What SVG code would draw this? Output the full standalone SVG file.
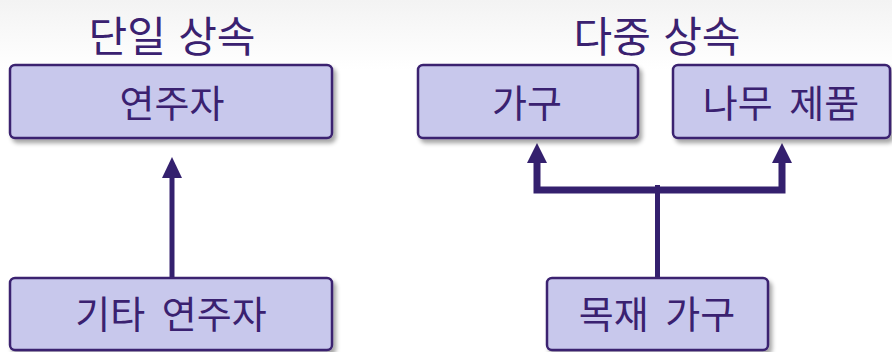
<svg xmlns="http://www.w3.org/2000/svg" width="892" height="352" viewBox="0 0 892 352">
<defs>
<linearGradient id="bg" x1="0" y1="0" x2="0" y2="1">
<stop offset="0" stop-color="#f3f3f3"/>
<stop offset="1" stop-color="#ffffff"/>
</linearGradient>
<filter id="sh" x="-10%" y="-20%" width="130%" height="150%">
<feDropShadow dx="3" dy="4" stdDeviation="2" flood-color="#000" flood-opacity="0.35"/>
</filter>
</defs>
<style>
.box{fill:#c8c8ec;stroke:#3a2170;stroke-width:2.5;filter:url(#sh)}
.lbl{font-family:"Noto Sans CJK KR","Noto Sans",sans-serif;font-size:38px;fill:#3a2170;text-anchor:middle;dominant-baseline:central}
.ttl{font-family:"Noto Sans CJK KR","Noto Sans",sans-serif;font-size:42px;fill:#3a2170;text-anchor:middle;dominant-baseline:central}
.ln{fill:none;stroke:#34206e;stroke-linejoin:miter}
.hd{fill:#34206e}
</style>
<rect x="0" y="0" width="892" height="70" fill="url(#bg)"/>
<rect x="0" y="70" width="892" height="282" fill="#fff"/>
<text class="ttl" x="172" y="33" word-spacing="3">단일 상속</text>
<text class="ttl" x="657" y="33" word-spacing="3">다중 상속</text>
<g id="connectors">
<line class="ln" x1="172" y1="278" x2="172" y2="176" stroke-width="5"/>
<polygon class="hd" points="172,157 162,178 182,178"/>
<line class="ln" x1="657.5" y1="278" x2="657.5" y2="185" stroke-width="5"/>
<polyline class="ln" points="537,160 537,190 782,190 782,160" stroke-width="7"/>
<polygon class="hd" points="537,143 527,163 547,163"/>
<polygon class="hd" points="782,143 772,163 792,163"/>
</g>
<g id="node-performer">
<rect class="box" x="10" y="65" width="322" height="73" rx="5"/>
<text class="lbl" x="172" y="100">연주자</text>
</g>
<g id="node-guitar-performer">
<rect class="box" x="10" y="278" width="322" height="72" rx="5"/>
<text class="lbl" x="171" y="311" word-spacing="8">기타 연주자</text>
</g>
<g id="node-furniture">
<rect class="box" x="418" y="65" width="220" height="73" rx="5"/>
<text class="lbl" x="527" y="100">가구</text>
</g>
<g id="node-wood-product">
<rect class="box" x="673" y="65" width="217" height="73" rx="5"/>
<text class="lbl" x="781" y="100" word-spacing="8">나무 제품</text>
</g>
<g id="node-wooden-furniture">
<rect class="box" x="547" y="278" width="221" height="72" rx="5"/>
<text class="lbl" x="657" y="311" word-spacing="8">목재 가구</text>
</g>
</svg>
